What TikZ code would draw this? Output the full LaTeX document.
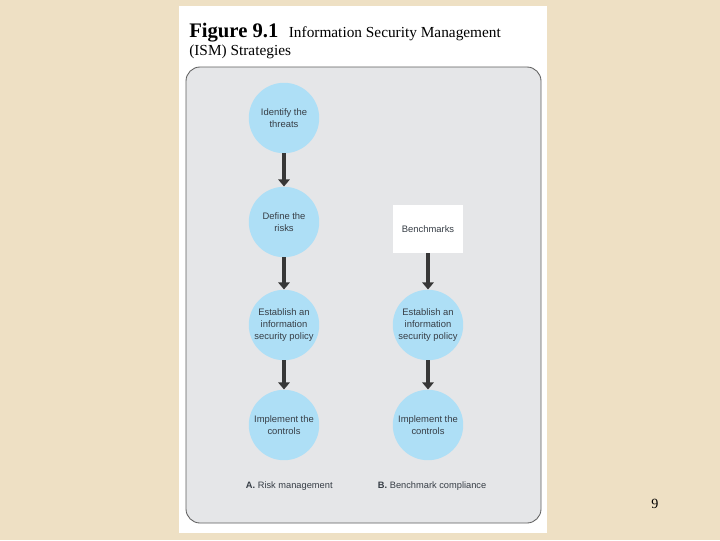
\documentclass[tikz,border=0pt]{standalone}
\usepackage{fontspec}
\setmainfont{Liberation Serif}
\setsansfont{Liberation Sans}
\usepackage{xcolor}
\usetikzlibrary{positioning, arrows.meta}

\definecolor{parchment}{RGB}{238,224,196}
\definecolor{panelgray}{RGB}{229,230,232}
\definecolor{edgegray}{RGB}{95,95,95}
\definecolor{stepblue}{RGB}{174,223,246}
\definecolor{inkgray}{RGB}{55,62,70}
\definecolor{arrowgray}{RGB}{55,55,55}

\begin{document}
\begin{tikzpicture}[x=0.025cm, y=-0.025cm,
        stage/.style={circle, fill=stepblue, minimum size=1.76cm, inner sep=0pt, align=center, font=\sffamily\fontsize{6.7}{8.6}\selectfont, text=inkgray},
        bench/.style={rectangle, fill=white, minimum width=1.75cm, minimum height=1.2cm, font=\sffamily\fontsize{6.7}{8.6}\selectfont, text=inkgray},
        flow/.style={-{Triangle[width=8pt, length=5pt]}, line width=2.6pt, arrowgray},
        caption/.style={anchor=base west, font=\sffamily\fontsize{6.6}{8}\selectfont, text=inkgray},
    ]
    % Page and panel
    \fill[parchment] (0, 0) rectangle (720, 540);
    \useasboundingbox (0, 0) rectangle (720, 540);
    \fill[white] (179, 6) rectangle (547, 533);
    \draw[edgegray, fill=panelgray, rounded corners=10pt, line width=0.6pt] (186, 67) rectangle (541, 523);

    % Title
    \node[anchor=base west, inner sep=0pt, font=\fontsize{14.7}{16}\selectfont\bfseries] (fig) at (189, 37) {Figure 9.1};
    \node[anchor=base west, inner sep=0pt, font=\fontsize{10.9}{12}\selectfont, right=7pt of fig.base east, anchor=base west] (ttl) {Information Security Management};
    \node[anchor=base west, inner sep=0pt, font=\fontsize{10.9}{12}\selectfont] (ttl2) at (189, 55) {(ISM) Strategies};

    % A. Risk management
    \node[stage] (threats) at (284, 118) {Identify the\\threats};
    \node[stage] (risks) at (284, 222) {Define the\\risks};
    \node[stage] (policyA) at (284, 325) {Establish an\\information\\security policy};
    \node[stage] (controlsA) at (284, 425) {Implement the\\controls};

    % B. Benchmark compliance
    \node[bench] (marks) at (428, 229) {Benchmarks};
    \node[stage] (policyB) at (428, 325) {Establish an\\information\\security policy};
    \node[stage] (controlsB) at (428, 425) {Implement the\\controls};

    % Arrows
    \foreach \a/\b in {threats/risks, risks/policyA, policyA/controlsA, marks/policyB, policyB/controlsB} {
        \draw[flow] (\a) -- (\b);
    }

    % Captions
    \node[caption] (capA) at (241, 488) {\textbf{A.} Risk management};
    \node[caption] (capB) at (373, 488) {\textbf{B.} Benchmark compliance};

    % Page number
    \node[font=\fontsize{10}{12}\selectfont] (pageno) at (655, 504) {9};
\end{tikzpicture}
\end{document}
